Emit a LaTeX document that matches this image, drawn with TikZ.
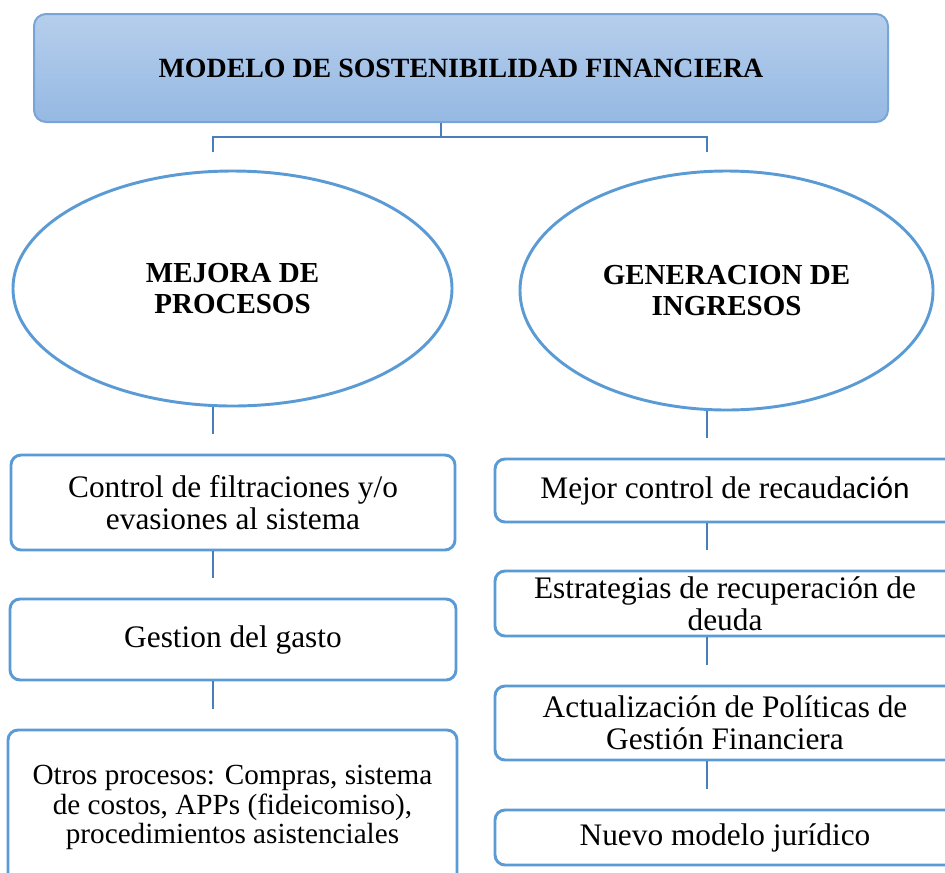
\documentclass[tikz,border=0pt]{standalone}
\usepackage{fontspec}
\setmainfont{Liberation Serif}
\newfontfamily\calfont{Carlito}
\usetikzlibrary{shapes.geometric}

\definecolor{boxblue}{RGB}{91,155,213}
\definecolor{linkblue}{RGB}{74,126,187}
\definecolor{topfill}{RGB}{182,206,236}
\definecolor{botfill}{RGB}{149,185,227}
\definecolor{ttlborder}{RGB}{120,164,216}

\begin{document}
\begin{tikzpicture}[x=0.75pt, y=-0.75pt,
        box/.style={draw=boxblue, line width=2.2pt, rounded corners=7.5pt, fill=white, align=center, inner sep=0pt, font=\fontsize{23.5}{24}\selectfont},
        oval/.style={ellipse, draw=boxblue, line width=2.2pt, fill=white, align=center, inner sep=0pt, font=\fontsize{21.75}{23.25}\selectfont\bfseries},
        link/.style={draw=linkblue, line width=1.8pt}]
            % Fix the page to the size of the picture
            \useasboundingbox (0,0) rectangle (945,872);

            % Draw the title box
            \node[draw=ttlborder, line width=1.5pt, rounded corners=9pt, top color=topfill, bottom color=botfill, minimum width=640.5pt, minimum height=81pt, font=\fontsize{20.9}{22}\selectfont\bfseries] (ttl) at (461,68) {MODELO DE SOSTENIBILIDAD FINANCIERA};

            % Draw the two ellipses
            \node[oval, minimum width=329.25pt, minimum height=176.25pt] (ellL) at (232.5,288.5) {MEJORA DE\\PROCESOS};
            \node[oval, minimum width=309.75pt, minimum height=179.25pt] (ellR) at (726.5,290.5) {GENERACION DE\\INGRESOS};

            % Draw the boxes of the left column
            \node[box, minimum width=333pt, minimum height=71.25pt] (L1) at (233,502.5) {Control de filtraciones y/o\\evasiones al sistema};
            \node[box, minimum width=334.5pt, minimum height=60.75pt] (L2) at (233,639.5) {Gestion del gasto};
            \node[box, minimum width=336.75pt, minimum height=116.25pt, font=\fontsize{21.9}{21.9}\selectfont] (L3) at (232.5,807.5) {Otros procesos: Compras, sistema\\de costos, APPs (fideicomiso),\\procedimientos asistenciales};

            % Draw the boxes of the right column
            \node[box, minimum width=345pt, minimum height=47.25pt] (R1) at (725,490.5) {Mejor control de recauda{\calfont ción}};
            \node[box, minimum width=345pt, minimum height=48.75pt] (R2) at (725,603.5) {Estrategias de recuperación de\\deuda};
            \node[box, minimum width=345pt, minimum height=55.5pt] (R3) at (725,723) {Actualización de Políticas de\\Gestión Financiera};
            \node[box, minimum width=345pt, minimum height=41.25pt] (R4) at (725,837.5) {Nuevo modelo jurídico};

            % Draw the branch under the title
            \coordinate (hub) at (441,137);
            \coordinate (jL) at (213,152);
            \coordinate (jR) at (707,152);
            \draw[link] (ttl.south -| hub) -- (hub);
            \draw[link] (jL) |- (hub) -| (jR);

            % Draw the short links down each column
            \foreach \a/\b in {ellL/L1, L1/L2, L2/L3}
                \draw[link, shorten >=15pt] (\a.south -| jL) -- (\b.north -| jL);
            \foreach \a/\b in {ellR/R1, R1/R2, R2/R3, R3/R4}
                \draw[link, shorten >=15pt] (\a.south -| jR) -- (\b.north -| jR);
        \end{tikzpicture}
\end{document}
